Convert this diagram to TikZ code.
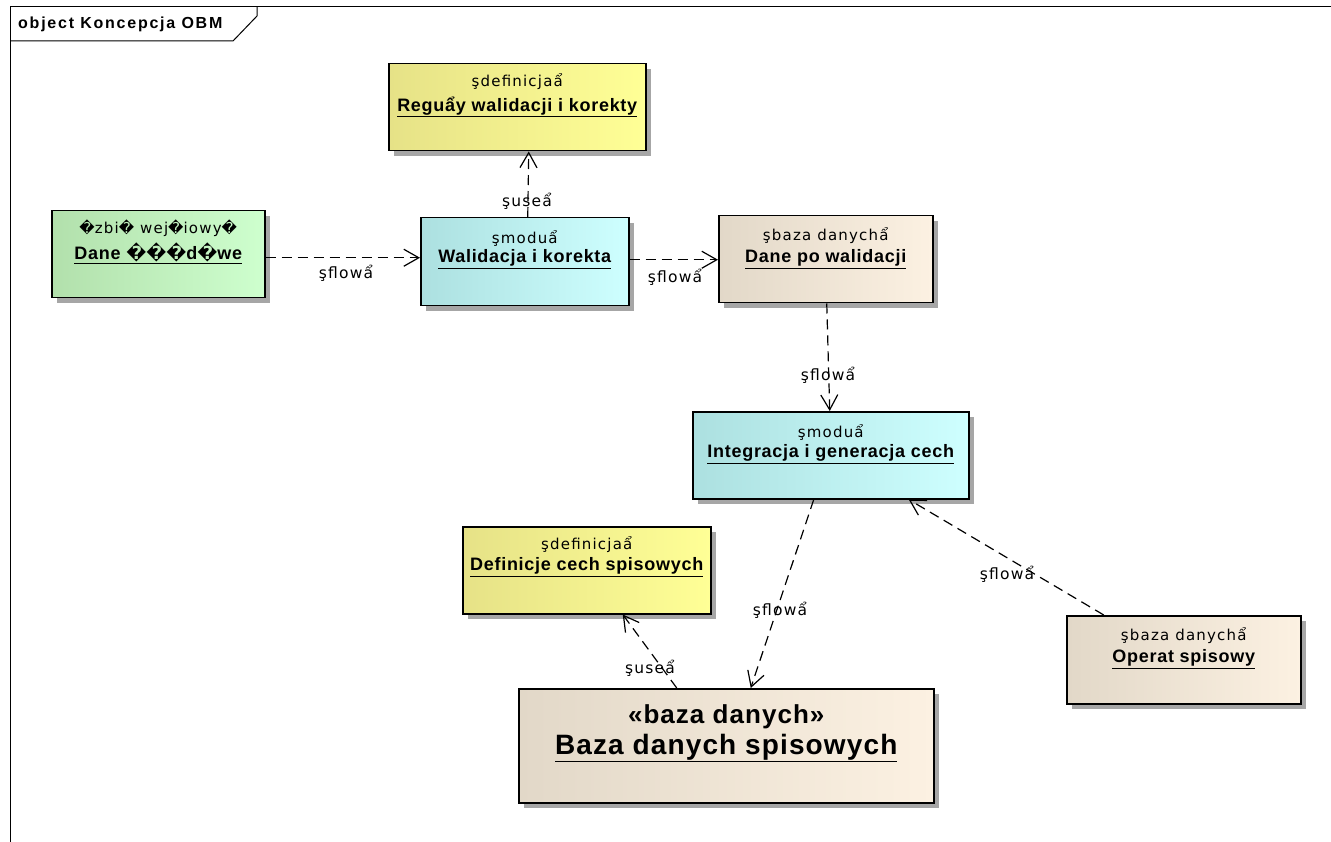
\documentclass[tikz,border=0pt]{standalone}
\usepackage{fontspec}
\setmainfont{Liberation Sans}
\newfontfamily\dv{DejaVu Sans}
\newfontfamily\stfont[LetterSpace=8]{DejaVu Sans}
\newfontfamily\nmfont[LetterSpace=4]{Liberation Sans}
\newfontfamily\ttlfont[LetterSpace=11]{Liberation Sans}
\newfontfamily\bigfont[LetterSpace=4]{Liberation Sans}
\usetikzlibrary{arrows.meta,shadows,calc}
\newcommand{\rc}{{\dv\char"FFFD}}
\definecolor{yelL}{RGB}{230,226,135}
\definecolor{yelR}{RGB}{255,255,150}
\definecolor{grnL}{RGB}{178,224,172}
\definecolor{grnR}{RGB}{206,255,206}
\definecolor{cyaL}{RGB}{172,224,224}
\definecolor{cyaR}{RGB}{206,255,255}
\definecolor{begL}{RGB}{226,216,200}
\definecolor{begR}{RGB}{252,241,226}
\tikzset{
  box/.style={draw=black, line width=1.5pt, rectangle, anchor=north west, inner sep=0pt,
    drop shadow={shadow xshift=5pt, shadow yshift=-5pt, fill=black!35, opacity=1}},
  yelbox/.style={box, left color=yelL, right color=yelR},
  grnbox/.style={box, left color=grnL, right color=grnR},
  cyabox/.style={box, left color=cyaL, right color=cyaR},
  begbox/.style={box, left color=begL, right color=begR},
  st/.style={font=\stfont\fontsize{15}{17}\selectfont, inner sep=0pt},
  nm/.style={font=\nmfont\fontsize{18}{20}\selectfont\bfseries, inner sep=0pt},
  lab/.style={font=\stfont\fontsize{15.5}{17}\selectfont, inner sep=0pt},
  dep/.style={line width=1.2pt, dash pattern=on 10pt off 6pt,
    -{Straight Barb[length=15pt,width=17pt,line width=1.2pt]}}
}
\begin{document}
\begin{tikzpicture}[x=1pt,y=-1pt]
\useasboundingbox (0,0) rectangle (1331,842);
% frame
\draw[line width=1pt] (10,842) -- (10,7) -- (1331,7);
\draw[line width=1pt] (10,41) -- (233,41) -- (257,16) -- (257,7);
\node[anchor=west, font=\ttlfont\fontsize{16}{18}\selectfont\bfseries, inner sep=0pt] (title) at (18,24) {object Koncepcja OBM};
% boxes
\node[yelbox, minimum width=257pt, minimum height=87pt] (rg) at (388,63) {};
\node[grnbox, minimum width=213pt, minimum height=87pt] (dz) at (51,210) {};
\node[cyabox, minimum width=208pt, minimum height=88pt] (wk) at (420,217) {};
\node[begbox, minimum width=214pt, minimum height=87pt] (dpw) at (718,215) {};
\node[cyabox, minimum width=276pt, minimum height=87pt] (igc) at (692,411) {};
\node[yelbox, minimum width=248pt, minimum height=87pt] (dcs) at (462,526) {};
\node[begbox, minimum width=234pt, minimum height=88pt] (os) at (1066,615) {};
\node[begbox, minimum width=415pt, minimum height=114pt] (bds) at (518,688) {};
% texts
\node[st] (rgS) at ([yshift=-19pt]rg.north) {şdefinicjaẩ};
\node[nm] (rgN) at ([yshift=-44pt]rg.north) {\underline{Reguẩy walidacji i korekty}};
\node[st] (dzS) at ([yshift=-18pt]dz.north) {\rc zbi\rc{} wej\rc iowy\rc};
\node[nm] (dzN) at ([yshift=-43pt]dz.north) {\underline{Dane \rc\rc\rc d\rc we}};
\node[st] (wkS) at ([yshift=-21pt]wk.north) {şmoduẩ};
\node[nm] (wkN) at ([yshift=-42pt]wk.north) {\underline{Walidacja i korekta}};
\node[st] (dpwS) at ([yshift=-21pt]dpw.north) {şbaza danychẩ};
\node[nm] (dpwN) at ([yshift=-44pt]dpw.north) {\underline{Dane po walidacji}};
\node[st] (igcS) at ([yshift=-21pt]igc.north) {şmoduẩ};
\node[nm] (igcN) at ([yshift=-43pt]igc.north) {\underline{Integracja i generacja cech}};
\node[st] (dcsS) at ([yshift=-19pt]dcs.north) {şdefinicjaẩ};
\node[nm] (dcsN) at ([yshift=-41pt]dcs.north) {\underline{Definicje cech spisowych}};
\node[st] (osS) at ([yshift=-21pt]os.north) {şbaza danychẩ};
\node[nm] (osN) at ([yshift=-44pt]os.north) {\underline{Operat spisowy}};
\node[font=\bigfont\fontsize{26}{28}\selectfont\bfseries, inner sep=0pt] (bdsS) at ([yshift=-29pt]bds.north) {«baza danych»};
\node[font=\bigfont\fontsize{28}{30}\selectfont\bfseries, inner sep=0pt] (bdsN) at ([yshift=-60pt]bds.north) {\underline{Baza danych spisowych}};
% connectors
\draw[dep] ([yshift=-3.5pt]dz.east) -- ([yshift=4pt]wk.west);
\draw[dep] ([xshift=3pt]wk.north) -- ([xshift=11.5pt]rg.south);
\draw[dep] ([yshift=2pt]wk.east) -- ([yshift=-0.5pt]dpw.west);
\draw[dep] ([xshift=1pt]dpw.south) -- ([xshift=-1pt]igc.north);
\draw[dep] ([xshift=-17pt]igc.south) -- ([xshift=24.5pt]bds.north);
\draw[dep] ([xshift=-49.5pt]bds.north) -- ([xshift=36pt]dcs.south);
\draw[dep] ([xshift=-80pt]os.north) -- ([xshift=78pt]igc.south);
% labels
\node[lab] (l1) at (346,273) {şflowẩ};
\node[lab] (l2) at (675,277) {şflowẩ};
\node[lab] (l3) at (828,375) {şflowẩ};
\node[lab] (l4) at (780,610) {şflowẩ};
\node[lab] (l5) at (1007,574) {şflowẩ};
\node[lab] (l6) at (527,201) {şuseẩ};
\node[lab] (l7) at (650,668) {şuseẩ};
\end{tikzpicture}
\end{document}
